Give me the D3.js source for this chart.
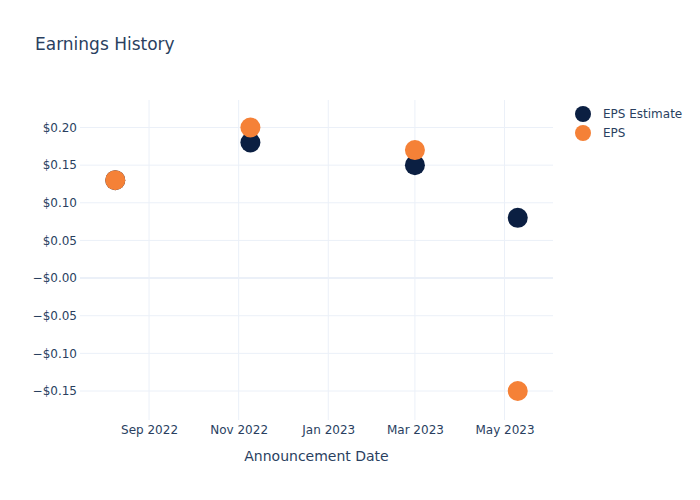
<!DOCTYPE html>
<html>
<head>
<meta charset="utf-8">
<script src="https://cdn.jsdelivr.net/npm/d3@7"></script>
<style>
  html, body { margin: 0; padding: 0; background: #fff; }
  svg { display: block; font-family: "DejaVu Sans", "Open Sans", sans-serif; }
</style>
</head>
<body>
<svg id="chart" width="700" height="500"></svg>
<script>
const dates = ["2022-08-09", "2022-11-09", "2023-03-01", "2023-05-10"];
const epsEstimate = [0.13, 0.18, 0.15, 0.08];
const eps = [0.13, 0.20, 0.17, -0.15];
const yTicks = [-0.15, -0.10, -0.05, 0.00, 0.05, 0.10, 0.15, 0.20];
const xTickDates = ["2022-09-01", "2022-11-01", "2023-01-01", "2023-03-01", "2023-05-01"];
const seriesNames = ["EPS Estimate", "EPS"];
const seriesColors = ["#0b1f42", "#f58137"];

const parse = d3.utcParse("%Y-%m-%d");
const svg = d3.select("#chart");
const W = 700, H = 500;
const m = { left: 80, right: 147, top: 100, bottom: 80 };
const iw = W - m.left - m.right, ih = H - m.top - m.bottom;

const x = d3.scaleUtc()
  .domain([parse("2022-07-16"), parse("2023-06-03")])
  .range([m.left, m.left + iw]);
const y = d3.scaleLinear()
  .domain([-0.1885, 0.2365])
  .range([m.top + ih, m.top]);

const textColor = "#2a3f5f";
const gridColor = "#ebf0f8";

// title
svg.append("text").attr("x", 35).attr("y", 50)
  .attr("fill", textColor).attr("font-size", 17).text("Earnings History");

// grid
const g = svg.append("g");
g.selectAll("line.vg").data(xTickDates).enter().append("line")
  .attr("x1", d => x(parse(d))).attr("x2", d => x(parse(d)))
  .attr("y1", m.top).attr("y2", m.top + ih)
  .attr("stroke", gridColor).attr("stroke-width", 1);
g.selectAll("line.hg").data(yTicks).enter().append("line")
  .attr("x1", m.left).attr("x2", m.left + iw)
  .attr("y1", d => y(d)).attr("y2", d => y(d))
  .attr("stroke", gridColor).attr("stroke-width", d => d === 0 ? 2 : 1);

// axes
const yAxis = d3.axisLeft(y).tickValues(yTicks).tickSize(0).tickPadding(3)
  .tickFormat(v => (v <= 0 ? "\u2212$" : "$") + Math.abs(v).toFixed(2));
const ya = svg.append("g").attr("transform", `translate(${m.left},0)`).call(yAxis);
ya.select(".domain").remove();
ya.selectAll("text").attr("fill", textColor).attr("font-size", 12)
  .attr("font-family", "DejaVu Sans, sans-serif");

const xAxis = d3.axisBottom(x).tickValues(xTickDates.map(parse)).tickSize(0).tickPadding(5)
  .tickFormat(d3.utcFormat("%b %Y"));
const xa = svg.append("g").attr("transform", `translate(0,${m.top + ih})`).call(xAxis);
xa.select(".domain").remove();
xa.selectAll("text").attr("fill", textColor).attr("font-size", 12)
  .attr("font-family", "DejaVu Sans, sans-serif");

svg.append("text").attr("x", m.left + iw / 2).attr("y", 461)
  .attr("text-anchor", "middle").attr("fill", textColor).attr("font-size", 14)
  .text("Announcement Date");

// points
const series = [epsEstimate, eps];
series.forEach((vals, si) => {
  svg.append("g").selectAll("circle").data(vals).enter().append("circle")
    .attr("cx", (d, i) => x(parse(dates[i])))
    .attr("cy", d => y(d))
    .attr("r", 10)
    .attr("fill", seriesColors[si]);
});

// legend
const lg = svg.append("g");
seriesNames.forEach((n, i) => {
  lg.append("circle").attr("cx", 583).attr("cy", 114 + i * 19).attr("r", 8)
    .attr("fill", seriesColors[i]);
  lg.append("text").attr("x", 603).attr("y", 118 + i * 19)
    .attr("fill", textColor).attr("font-size", 12).text(n);
});
</script>
</body>
</html>
